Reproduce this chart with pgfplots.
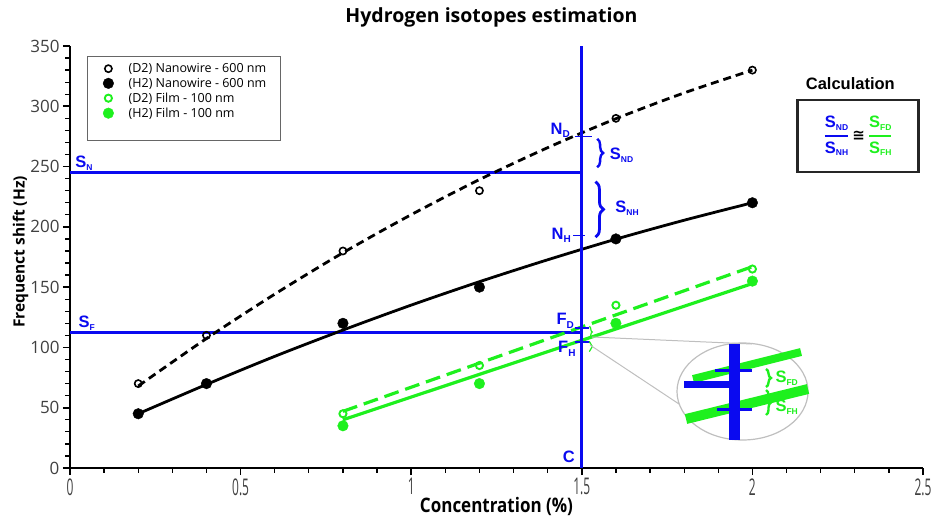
\documentclass[border=0pt]{standalone}
\usepackage{pgfplots}
\pgfplotsset{compat=1.18}
\usepackage{amsmath}
\usepackage{fontspec}
\setmainfont{Open Sans}
\newfontfamily\arial{Liberation Sans}
\newfontfamily\dejavu{DejaVu Sans}
\newfontfamily\xcond[FakeStretch=0.52]{Open Sans}
\newfontfamily\xcondb[FakeStretch=0.85]{Open Sans}
\usetikzlibrary{decorations.pathreplacing}
\definecolor{myblue}{RGB}{10,10,240}
\definecolor{mygreen}{RGB}{30,240,30}
\newcommand\ann{\arial\bfseries\fontsize{16.5}{16.5}\selectfont}
\newcommand\sub[1]{\raisebox{-0.4ex}{\fontsize{10}{10}\selectfont #1}}
\newcommand\ssub[1]{\raisebox{-0.3ex}{\fontsize{8.5}{8.5}\selectfont #1}}
\begin{document}
\begin{tikzpicture}
\path[use as bounding box] (-70pt,-55pt) rectangle (863pt,468pt);
\begin{axis}[
  at={(0pt,0pt)}, anchor=south west,
  width=853pt, height=422pt, scale only axis,
  xmin=0, xmax=2.5, ymin=0, ymax=350,
  axis lines=left,
  axis line style={line width=2pt, -},
  xtick={0,0.5,1,1.5,2,2.5},
  xticklabels={0,0.5,1,1.5,2,2.5},
  ytick={0,50,...,350},
  minor x tick num=4, minor y tick num=4,
  tick align=outside,
  major tick style={line width=1.6pt, black},
  minor tick style={line width=1.3pt, black},
  major tick length=7pt, minor tick length=4.5pt,
  /pgf/number format/assume math mode=true,
  xticklabel style={font=\xcond\fontsize{23}{23}\selectfont, text=black!75, yshift=0pt},
  yticklabel style={font=\fontsize{17}{17}\selectfont, text=black!75},
  xlabel={Concentration (\%)},
  ylabel={Frequenct shift (Hz)},
  xlabel style={font=\xcondb\bfseries\fontsize{20}{20}\selectfont, yshift=5pt},
  ylabel style={font=\bfseries\fontsize{15.5}{15.5}\selectfont, xshift=5pt, yshift=-5pt},
  title={Hydrogen isotopes estimation},
  title style={font=\bfseries\fontsize{19.5}{19.5}\selectfont, at={(0.5,1)}, anchor=base, yshift=18pt, xshift=-5pt},
  clip=false,
  legend style={at={(0.028,0.976)}, anchor=north west, draw=none, fill=none,
    font=\fontsize{12.5}{14}\selectfont, row sep=0pt, column sep=13pt, inner xsep=9pt, inner ysep=5pt},
  legend cell align=left,
]
% blue construction lines
\addplot[myblue, line width=3pt, forget plot] coordinates {(0,245) (1.5,245)};
\addplot[myblue, line width=3pt, forget plot] coordinates {(0,112) (1.5,112)};
% fitted curves
\addplot[black, line width=2.8pt, dash pattern=on 8pt off 5pt, smooth, forget plot] coordinates {(0.2,68) (0.4,107.4) (0.6,144.2) (0.8,178.5) (1.0,210.1) (1.2,239.2) (1.4,265.7) (1.6,289.7) (1.8,311.1) (2.0,330)};
\addplot[black, line width=2.8pt, smooth, forget plot] coordinates {(0.2,45) (0.4,69.3) (0.6,92.6) (0.8,114.4) (1.0,135.1) (1.2,154.5) (1.4,172.7) (1.6,189.8) (1.8,205.5) (2.0,220)};
\addplot[mygreen, line width=3.2pt, dash pattern=on 15pt off 7pt, forget plot] coordinates {(0.8,47) (2.0,167)};
\addplot[mygreen, line width=3.2pt, forget plot] coordinates {(0.8,40) (2.0,153)};
\addplot[myblue, line width=3pt, forget plot] coordinates {(1.5,0) (1.5,350)};
% data
\addplot[only marks, mark=o, mark size=3.6pt, black, line width=1.6pt] coordinates {(0.2,70) (0.4,110) (0.8,180) (1.2,230) (1.6,290) (2.0,330)};
\addlegendentry{(D2) Nanowire - 600 nm}
\addplot[only marks, mark=*, mark size=5.3pt, black] coordinates {(0.2,45) (0.4,70) (0.8,120) (1.2,150) (1.6,190) (2.0,220)};
\addlegendentry{(H2) Nanowire - 600 nm}
\addplot[only marks, mark=o, mark size=3.6pt, mygreen, line width=1.9pt] coordinates {(0.8,45) (1.2,85) (1.6,135) (2.0,165)};
\addlegendentry{(D2) Film - 100 nm}
\addplot[only marks, mark=*, mark size=5.3pt, mygreen] coordinates {(0.8,35) (1.2,70) (1.6,120) (2.0,155)};
\addlegendentry{(H2) Film - 100 nm}
% small ticks on the vertical line
\draw[myblue, line width=1.6pt] (axis cs:1.48,275) -- (axis cs:1.53,275);
\draw[myblue, line width=1.6pt] (axis cs:1.475,193) -- (axis cs:1.51,193);
\draw[myblue, line width=1.6pt] (axis cs:1.48,116) -- (axis cs:1.52,116);
\draw[myblue, line width=1.6pt] (axis cs:1.48,104.5) -- (axis cs:1.525,104.5);
% labels
\node[anchor=west, font=\ann, text=myblue, inner sep=1pt] at (axis cs:0.012,253) {S\ssub{N}};
\node[anchor=west, font=\ann, text=myblue, inner sep=1pt] at (axis cs:0.022,120) {S\ssub{F}};
\node[anchor=east, font=\ann, text=myblue] at (axis cs:1.475,280) {N\sub{D}};
\node[anchor=east, font=\ann, text=myblue] at (axis cs:1.478,193) {N\sub{H}};
\node[anchor=east, font=\ann, text=myblue] at (axis cs:1.487,122) {F\sub{D}};
\node[anchor=east, font=\ann, text=myblue] at (axis cs:1.492,99) {F\sub{H}};
\node[anchor=east, font=\ann, text=myblue] at (axis cs:1.49,9) {C};
\draw[myblue, line width=2.4pt, decorate, decoration={brace, amplitude=6pt}] (axis cs:1.545,273) -- (axis cs:1.545,249.5);
\draw[myblue, line width=2.8pt, decorate, decoration={brace, amplitude=8pt}] (axis cs:1.54,237.5) -- (axis cs:1.54,191.5);
\node[anchor=west, font=\ann, text=myblue] at (axis cs:1.572,259.5) {S\ssub{ND}};
\node[anchor=west, font=\ann, text=myblue] at (axis cs:1.588,215.6) {S\ssub{NH}};
\draw[mygreen, line width=1.2pt, decorate, decoration={brace, amplitude=3pt}] (axis cs:1.522,117.5) -- (axis cs:1.522,108);
\draw[mygreen, line width=1.2pt, decorate, decoration={brace, amplitude=3pt}] (axis cs:1.522,105) -- (axis cs:1.522,96.5);
% calculation box
\node[font=\arial\bfseries\fontsize{16.5}{16.5}\selectfont] at (axis cs:2.287,319) {Calculation};
\draw[line width=2.2pt, black!85] (axis cs:2.132,305.1) rectangle (axis cs:2.487,245.4);
\node[font=\ann] at (axis cs:2.31,275.4) {{\color{myblue}$\genfrac{}{}{1.6pt}{0}{\mbox{\ann S\ssub{ND}}}{\mbox{\ann S\ssub{NH}}}$}\hspace{3pt}{\dejavu\bfseries\fontsize{15}{15}\selectfont ≅}\hspace{3pt}{\color{mygreen}$\genfrac{}{}{1.6pt}{0}{\mbox{\ann S\ssub{FD}}}{\mbox{\ann S\ssub{FH}}}$}};
\end{axis}
% legend frame and magnified inset
\begin{scope}[x=1pt, y=-1pt, xshift=-70pt, yshift=468pt]
 \draw[black!60, line width=0.8pt] (87,56) rectangle (280,140);
 \draw[black!25, line width=1pt] (592,337) -- (752,344);
 \draw[black!25, line width=1pt] (590,345) -- (679,404);
 \draw[black!25, line width=1.2pt] (742.5,391.5) ellipse [x radius=65.5pt, y radius=48.5pt];
 \draw[mygreen, line width=8pt] (693,379) -- (801,352);
 \draw[mygreen, line width=10pt] (686,419) -- (808,389);
 \fill[myblue] (729,344) rectangle (740,440);
 \fill[myblue] (684,381) rectangle (729,388);
 \draw[myblue, line width=3pt] (715,370) -- (752,370);
 \draw[myblue, line width=3pt] (717,409) -- (752,409);
 \draw[mygreen, line width=2.4pt, decorate, decoration={brace, amplitude=5pt}] (766,369) -- (766,387);
 \draw[mygreen, line width=2.4pt, decorate, decoration={brace, amplitude=5pt}] (766,390) -- (766,415);
 \node[anchor=west, font=\ann, text=mygreen] at (772,378) {S\ssub{FD}};
 \node[anchor=west, font=\ann, text=mygreen] at (772,407) {S\ssub{FH}};
\end{scope}
\end{tikzpicture}
\end{document}
